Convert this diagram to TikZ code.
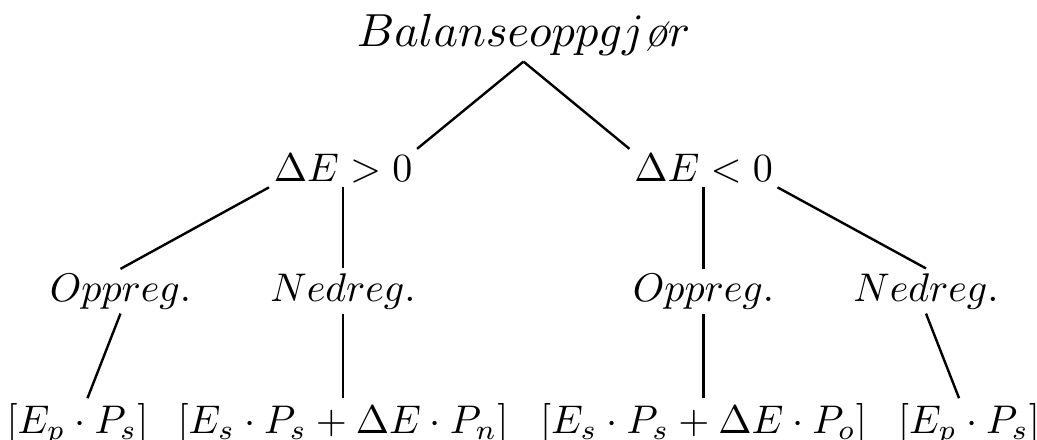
\documentclass[tikz,border=0pt]{standalone}
\usepackage{tikz}
\tikzset{
  term/.style={inner sep=1pt, anchor=base},
  branch/.style={draw, line width=0.6pt}
}

\begin{document}
\begin{tikzpicture}[x=0.25pt, y=-0.25pt]
    \useasboundingbox (0,0) rectangle (1037,439);

    % root and the two cases
    \node[term, scale=1.16] (root) at (523.5,47) {$Balanseoppgj\textit{\o}r$};
    \node[term] (pos) at (343,181) {$\Delta E > 0$};
    \node[term] (neg) at (703.5,181) {$\Delta E < 0$};

    % regulation direction
    \node[term] (posup) at (120.5,301) {$Oppreg.$};
    \node[term] (posdown) at (343,301) {$Nedreg.$};
    \node[term] (negup) at (703.5,301) {$Oppreg.$};
    \node[term] (negdown) at (926,301) {$Nedreg.$};

    % settlement price
    \node[term] (posupval) at (77.5,433) {$[E_p \cdot P_s]$};
    \node[term] (posdownval) at (343,433) {$[E_s \cdot P_s + \Delta E \cdot P_n]$};
    \node[term] (negupval) at (703.5,433) {$[E_s \cdot P_s + \Delta E \cdot P_o]$};
    \node[term] (negdownval) at (969,433) {$[E_p \cdot P_s]$};

    \draw[branch] (root.south) -- (pos.north east);
    \draw[branch] (root.south) -- (neg.north west);
    \draw[branch] (pos.south west) -- (posup.north);
    \draw[branch] (pos.south) -- (posdown.north);
    \draw[branch] (neg.south) -- (negup.north);
    \draw[branch] (neg.south east) -- (negdown.north);
    \draw[branch] (posup.south) -- (posupval);
    \draw[branch] (posdown.south) -- (posdownval);
    \draw[branch] (negup.south) -- (negupval);
    \draw[branch] (negdown.south) -- (negdownval);
\end{tikzpicture}
\end{document}
